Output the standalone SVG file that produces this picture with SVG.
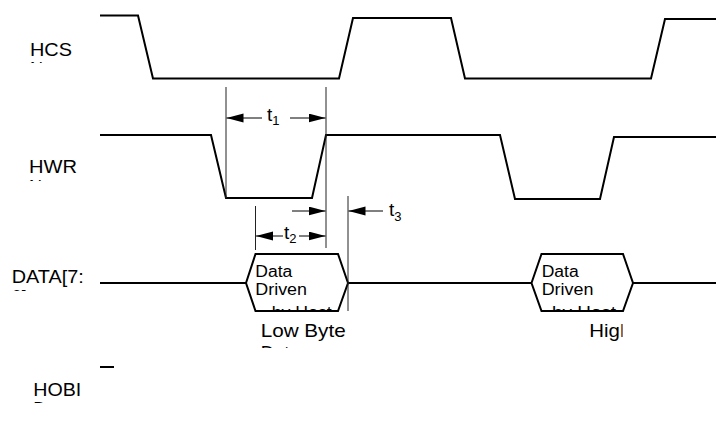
<svg xmlns="http://www.w3.org/2000/svg" width="716" height="421" viewBox="0 0 716 421">
<style>
.wave{fill:none;stroke:#000;stroke-width:2;stroke-linejoin:miter}
.guide{fill:none;stroke:#222;stroke-width:1}
.dim{fill:none;stroke:#000;stroke-width:1;marker-end:url(#ah)}
text{font-family:"Liberation Sans",Arial,Helvetica,sans-serif;fill:#000}
.lbl{font-size:18px}
.big{font-size:18.5px}
.hex{font-size:16px}
.t{font-size:19px}
.sub{font-size:13px}
</style>
<defs>
<marker id="ah" markerUnits="userSpaceOnUse" markerWidth="18" markerHeight="10" refX="17" refY="4.5" orient="auto">
<path d="M0,0 L17,4.5 L0,9 Z" fill="#000"/>
</marker>
<clipPath id="cHCS"><rect x="0" y="30" width="95" height="33"/></clipPath>
<clipPath id="cHWR"><rect x="0" y="150" width="95" height="31"/></clipPath>
<clipPath id="cDATA"><rect x="0" y="260" width="95" height="31"/></clipPath>
<clipPath id="cHOBI"><rect x="0" y="370" width="95" height="33"/></clipPath>
<clipPath id="cHex1"><rect x="246" y="250" width="102" height="61"/></clipPath>
<clipPath id="cHex2"><rect x="531" y="250" width="102" height="61"/></clipPath>
<clipPath id="cLow"><rect x="250" y="315" width="110" height="33"/></clipPath>
<clipPath id="cHigh"><rect x="580" y="315" width="42.5" height="33"/></clipPath>
</defs>
<rect width="716" height="421" fill="#fff"/>

<g id="label-hcs" clip-path="url(#cHCS)">
<text class="lbl" x="30" y="56" textLength="42" lengthAdjust="spacingAndGlyphs">HCS</text>
<text class="lbl" x="30" y="75">N</text>
</g>
<g id="label-hwr" clip-path="url(#cHWR)">
<text class="lbl" x="29" y="173.3" textLength="48" lengthAdjust="spacingAndGlyphs">HWR</text>
<text class="lbl" x="29" y="192.5">N</text>
</g>
<g id="label-data" clip-path="url(#cDATA)">
<text class="lbl" x="11.7" y="282.5" textLength="72" lengthAdjust="spacingAndGlyphs">DATA[7:</text>
<text class="lbl" x="11.7" y="302.5">0]</text>
</g>
<g id="label-hobi" clip-path="url(#cHOBI)">
<text class="lbl" x="33.3" y="395.7" textLength="48" lengthAdjust="spacingAndGlyphs">HOBI</text>
<text class="lbl" x="33.3" y="415">D</text>
</g>

<g id="wave-hcs">
<polyline class="wave" points="100,15.5 138,15.5 153,78.5 339,78.5 353,18 451,18 465,78.5 651,78.5 665,19 716,19"/>
</g>
<g id="wave-hwr">
<polyline class="wave" points="100,135 211,135 226,198 312,198 326,135 500,135 515,199 600,199 614,137 716,137"/>
</g>
<g id="wave-data">
<line class="wave" x1="100" y1="283" x2="246" y2="283"/>
<polygon class="wave" points="246,283 255.5,254 338,254 348,283 338,311 255.5,311"/>
<line class="wave" x1="348" y1="283" x2="531.5" y2="283"/>
<polygon class="wave" points="531.5,283 541.5,254 623,254 633,283 623,311 541.5,311"/>
<line class="wave" x1="633" y1="283" x2="716" y2="283"/>
</g>
<g id="wave-hobi">
<line class="wave" x1="100" y1="367" x2="114" y2="367"/>
</g>

<g id="hex1-text" clip-path="url(#cHex1)">
<text class="hex" x="255.3" y="276.5" textLength="37" lengthAdjust="spacingAndGlyphs">Data</text>
<text class="hex" x="255.3" y="294.5" textLength="51.7" lengthAdjust="spacingAndGlyphs">Driven</text>
<text class="hex" x="271.7" y="318" textLength="60" lengthAdjust="spacingAndGlyphs">by Host</text>
</g>
<g id="hex2-text" clip-path="url(#cHex2)">
<text class="hex" x="541.7" y="276.7" textLength="37" lengthAdjust="spacingAndGlyphs">Data</text>
<text class="hex" x="541.7" y="294.7" textLength="51.7" lengthAdjust="spacingAndGlyphs">Driven</text>
<text class="hex" x="552" y="318" textLength="64" lengthAdjust="spacingAndGlyphs">by Host</text>
</g>
<g id="low-byte" clip-path="url(#cLow)">
<text class="big" x="260.7" y="337.3" textLength="85" lengthAdjust="spacingAndGlyphs">Low Byte</text>
<text class="big" x="260.7" y="358.5">Data</text>
</g>
<g id="high-byte" clip-path="url(#cHigh)">
<text class="big" x="589.3" y="337.3" textLength="42" lengthAdjust="spacingAndGlyphs">High</text>
</g>

<g id="connectors">
<line class="guide" x1="226" y1="87" x2="226" y2="198"/>
<line class="guide" x1="326" y1="87" x2="326" y2="248"/>
<line class="guide" x1="255.5" y1="206" x2="255.5" y2="250"/>
<line class="guide" x1="348" y1="196" x2="348" y2="311"/>
<line class="dim" x1="262" y1="118" x2="226.5" y2="118"/>
<line class="dim" x1="290" y1="118" x2="325.5" y2="118"/>
<line class="dim" x1="292" y1="211" x2="325.5" y2="211"/>
<line class="dim" x1="383" y1="211" x2="348.5" y2="211"/>
<line class="dim" x1="283" y1="236" x2="256" y2="236"/>
<line class="dim" x1="299" y1="236" x2="325.5" y2="236"/>
</g>
<g id="timing-labels">
<text class="t" x="267" y="121">t<tspan class="sub" dy="4">1</tspan></text>
<text class="t" x="284" y="239">t<tspan class="sub" dy="4">2</tspan></text>
<text class="t" x="389" y="216">t<tspan class="sub" dy="5">3</tspan></text>
</g>
</svg>
